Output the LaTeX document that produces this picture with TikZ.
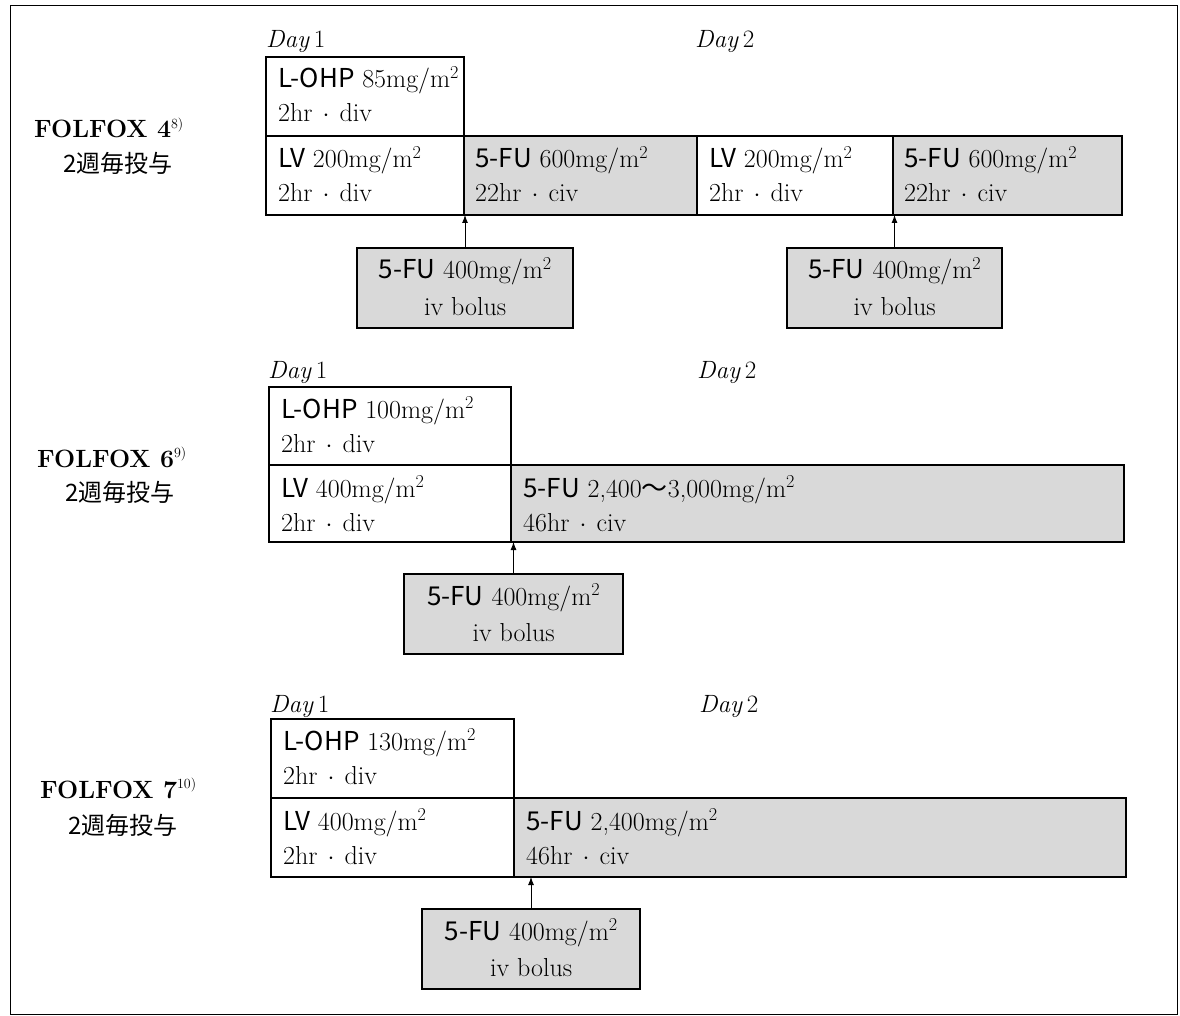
\documentclass[tikz,border=0pt]{standalone}
\usepackage{fontspec}
\newfontfamily\cjk{Noto Sans CJK JP}
\usetikzlibrary{arrows.meta,calc}
\newcommand\mytwo[2]{\vtop{\hbox{#1}\hbox{#2}}}
\newcommand\mytwoc[3]{\vtop{\hbox to #1{\hfil#2\hfil}\hbox to #1{\hfil#3\hfil}}}
\newcommand\msq{m\textsuperscript{2}}
\newcommand\mydot{\hbox to 27pt{\hss{\fontsize{36}{36}\selectfont$\cdot$}\hss}}
\newcommand\dv{2hr\mydot div}
\tikzset{
  cell/.style={draw, line width=1.3pt, anchor=north west, inner sep=0pt, outer sep=0pt},
  dark/.style={cell, fill=black!15},
  txt/.style={anchor=base west, inner sep=0pt, font=\fontsize{26}{34}\selectfont},
  ctxt/.style={anchor=base west, inner sep=0pt, font=\fontsize{26}{36}\selectfont},
  daylab/.style={anchor=base west, inner sep=0pt, font=\fontsize{25}{30}\selectfont},
  reglab/.style={anchor=base west, inner sep=0pt, font=\fontsize{25}{30}\selectfont\bfseries},
  sublab/.style={anchor=center, inner sep=0pt, font=\fontsize{24}{28}\selectfont\cjk},
  arr/.style={-{Latex[length=8pt,width=6pt]}, line width=0.9pt},
}
\begin{document}
\begin{tikzpicture}[x=1pt,y=-1pt]
\useasboundingbox (0,0) rectangle (1180,1016);
\node[draw, line width=0.9pt, anchor=north west, inner sep=0pt, minimum width=1167pt, minimum height=1009pt] (frame) at (10,5) {};

% ---------------- FOLFOX 4 ----------------
\node[reglab] (n4) at (34,138) {FOLFOX 4\textsuperscript{\mdseries\fontsize{14}{14}\selectfont 8)}};
\node[sublab] (s4) at (118,163) {2週毎投与};
\node[daylab] (d41) at (266,48) {\textit{Day}\,1};
\node[daylab] (d42) at (695,48) {\textit{Day}\,2};

\node[cell, minimum width=198pt, minimum height=79pt] (ox4) at (266,57) {};
\node[cell, minimum width=198pt, minimum height=79pt] (lv4a) at (266,136) {};
\node[dark, minimum width=233pt, minimum height=79pt] (fu4a) at (464,136) {};
\node[cell, minimum width=196pt, minimum height=79pt] (lv4b) at (697,136) {};
\node[dark, minimum width=229pt, minimum height=79pt] (fu4b) at (893,136) {};
\node[dark, minimum width=216pt, minimum height=80pt] (bo4a) at (357,248) {};
\node[dark, minimum width=215pt, minimum height=80pt] (bo4b) at (787,248) {};

\node[txt] (t4ox) at ($(ox4.north west)+(12,31)$) {\mytwo{{\cjk L-OHP} 85mg/\msq}{\dv}};
\node[txt] (t4lva) at ($(lv4a.north west)+(12,32)$) {\mytwo{{\cjk LV} 200mg/\msq}{\dv}};
\node[txt] (t4fua) at ($(fu4a.north west)+(11,32)$) {\mytwo{{\cjk 5-FU} 600mg/\msq}{22hr\mydot civ}};
\node[txt] (t4lvb) at ($(lv4b.north west)+(12,32)$) {\mytwo{{\cjk LV} 200mg/\msq}{\dv}};
\node[txt] (t4fub) at ($(fu4b.north west)+(11,32)$) {\mytwo{{\cjk 5-FU} 600mg/\msq}{22hr\mydot civ}};
\node[ctxt] (t4boa) at ($(bo4a.north west)+(0,31)$) {\mytwoc{216pt}{{\cjk 5-FU} 400mg/\msq}{iv bolus}};
\node[ctxt] (t4bob) at ($(bo4b.north west)+(0,31)$) {\mytwoc{215pt}{{\cjk 5-FU} 400mg/\msq}{iv bolus}};

\draw[arr] (bo4a.north) -- (bo4a.north |- lv4a.south);
\draw[arr] (bo4b.north) -- (bo4b.north |- lv4b.south);

% ---------------- FOLFOX 6 ----------------
\node[reglab] (n6) at (37,467) {FOLFOX 6\textsuperscript{\mdseries\fontsize{14}{14}\selectfont 9)}};
\node[sublab] (s6) at (120,492) {2週毎投与};
\node[daylab] (d61) at (268,378) {\textit{Day}\,1};
\node[daylab] (d62) at (697,378) {\textit{Day}\,2};

\node[cell, minimum width=242pt, minimum height=78pt] (ox6) at (269,387) {};
\node[cell, minimum width=242pt, minimum height=77pt] (lv6) at (269,465) {};
\node[dark, minimum width=613pt, minimum height=77pt] (fu6) at (511,465) {};
\node[dark, minimum width=219pt, minimum height=80pt] (bo6) at (404,574) {};

\node[txt] (t6ox) at ($(ox6.north west)+(12,31)$) {\mytwo{{\cjk L-OHP} 100mg/\msq}{\dv}};
\node[txt] (t6lv) at ($(lv6.north west)+(12,32)$) {\mytwo{{\cjk LV} 400mg/\msq}{\dv}};
\node[txt] (t6fu) at ($(fu6.north west)+(12,32)$) {\mytwo{{\cjk 5-FU} 2,400{\cjk 〜}3,000mg/\msq}{46hr\mydot civ}};
\node[ctxt] (t6bo) at ($(bo6.north west)+(0,31)$) {\mytwoc{219pt}{{\cjk 5-FU} 400mg/\msq}{iv bolus}};

\draw[arr] (bo6.north) -- (bo6.north |- lv6.south);

% ---------------- FOLFOX 7 ----------------
\node[reglab] (n7) at (40,798) {FOLFOX 7\textsuperscript{\mdseries\fontsize{14}{14}\selectfont 10)}};
\node[sublab] (s7) at (123,825) {2週毎投与};
\node[daylab] (d71) at (270,712) {\textit{Day}\,1};
\node[daylab] (d72) at (699,712) {\textit{Day}\,2};

\node[cell, minimum width=243pt, minimum height=79pt] (ox7) at (271,719) {};
\node[cell, minimum width=243pt, minimum height=79pt] (lv7) at (271,798) {};
\node[dark, minimum width=612pt, minimum height=79pt] (fu7) at (514,798) {};
\node[dark, minimum width=218pt, minimum height=80pt] (bo7) at (422,909) {};

\node[txt] (t7ox) at ($(ox7.north west)+(12,31)$) {\mytwo{{\cjk L-OHP} 130mg/\msq}{\dv}};
\node[txt] (t7lv) at ($(lv7.north west)+(12,32)$) {\mytwo{{\cjk LV} 400mg/\msq}{\dv}};
\node[txt] (t7fu) at ($(fu7.north west)+(12,32)$) {\mytwo{{\cjk 5-FU} 2,400mg/\msq}{46hr\mydot civ}};
\node[ctxt] (t7bo) at ($(bo7.north west)+(0,31)$) {\mytwoc{218pt}{{\cjk 5-FU} 400mg/\msq}{iv bolus}};

\draw[arr] (bo7.north) -- (bo7.north |- lv7.south);
\end{tikzpicture}
\end{document}
